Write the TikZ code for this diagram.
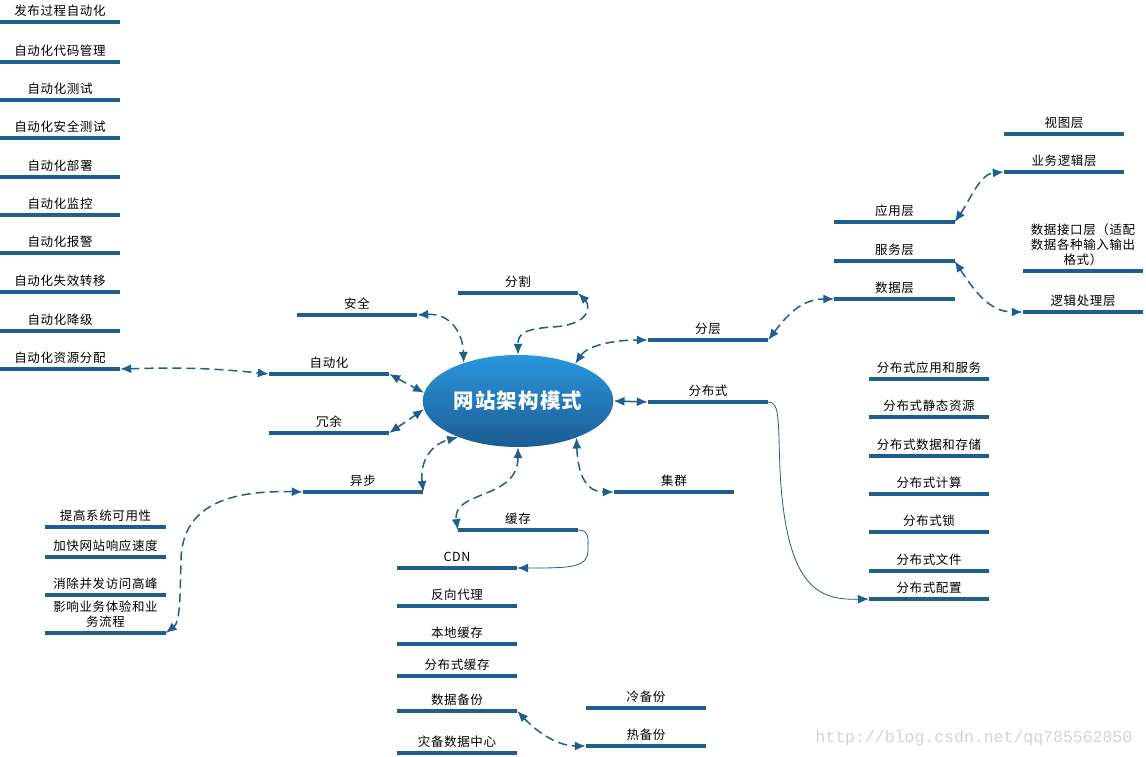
\documentclass[tikz,border=0pt]{standalone}
\usepackage{fontspec}
\newfontfamily\cjk[LetterSpace=5]{Noto Sans CJK SC}
\newfontfamily\wmfont{Liberation Mono}
\usetikzlibrary{shapes.geometric,arrows.meta}
\definecolor{barblue}{HTML}{1F5F8B}
\definecolor{corehi}{HTML}{2A96DD}
\definecolor{corelo}{HTML}{1C5C93}
\definecolor{wmgray}{HTML}{D4D4D4}
\tikzset{
  bar/.style={draw=barblue,line width=4pt},
  topic/.style={font=\cjk\fontsize{12.5}{15}\selectfont,minimum width=120pt,
    inner xsep=0pt,inner ysep=2.5pt,text height=10pt,text depth=4pt,anchor=south,
    append after command={(\tikzlastnode.south west) edge[bar] (\tikzlastnode.south east)}},
  core/.style={ellipse,minimum width=190pt,minimum height=92pt,top color=corehi,
    bottom color=corelo,text=white,font=\cjk\bfseries\fontsize{20.5}{24}\selectfont},
  link/.style={draw=barblue,line width=1.5pt,dash pattern=on 9pt off 5pt,
    {Latex[length=11pt,width=9pt]}-{Latex[length=11pt,width=9pt]}},
  flow/.style={draw=barblue,line width=0.8pt,-{Latex[length=11pt,width=9pt]}}
}
\begin{document}
\begin{tikzpicture}[x=1pt,y=-1pt]
  \useasboundingbox[fill=white] (0,0) rectangle (1146,757);
  % centre
  \node[core] (core) at (518,401) {网站架构模式};
  % automation column
  \foreach \yy/\lab [count=\i] in {22/发布过程自动化, 62/自动化代码管理, 100/自动化测试,
      138/自动化安全测试, 177/自动化部署, 215/自动化监控, 253/自动化报警,
      292/自动化失效转移, 331/自动化降级, 369/自动化资源分配}
    \node[topic] (zd\i) at (60,\yy) {\lab};
  % left branches
  \node[topic] (anquan) at (357,315) {安全};
  \node[topic] (zidonghua) at (329,374) {自动化};
  \node[topic] (rongyu) at (329,433) {冗余};
  \node[topic] (yibu) at (363,492) {异步};
  \node[topic] (gaoyong) at (105.5,527) {提高系统可用性};
  \node[topic] (kuaisu) at (105.5,557) {加快网站响应速度};
  \node[topic] (xiaofeng) at (105.5,595) {消除并发访问高峰};
  \node[topic] (yingxiang) at (105.5,633)
    {\begin{tabular}[b]{@{}c@{}}影响业务体验和业\\务流程\end{tabular}};
  % top / bottom branches
  \node[topic] (fenge) at (518,293) {分割};
  \node[topic] (huancun) at (518,530) {缓存};
  \foreach \nm/\yy/\lab in {cdn/568/CDN, fanxiang/606/反向代理, bendi/644/本地缓存,
      fbhc/676/分布式缓存, sjbf/711/数据备份, zaibei/753/灾备数据中心}
    \node[topic] (\nm) at (457,\yy) {\lab};
  \node[topic] (lengbf) at (646,708) {冷备份};
  \node[topic] (rebf) at (646,746) {热备份};
  % right branches
  \node[topic] (jiqun) at (674,492) {集群};
  \node[topic] (fenceng) at (708,340) {分层};
  \node[topic] (fenbu) at (708,402) {分布式};
  \foreach \nm/\yy/\lab in {yingyong/222/应用层, fuwu/261/服务层, shujuceng/299/数据层}
    \node[topic] (\nm) at (894.5,\yy) {\lab};
  \node[topic] (shitu) at (1064,134) {视图层};
  \node[topic] (yewu) at (1064,172) {业务逻辑层};
  \node[topic] (jiekou) at (1083,271)
    {\begin{tabular}[b]{@{}c@{}}数据接口层（适配\\数据各种输入输出\\格式）\end{tabular}};
  \node[topic] (luoji) at (1083,312) {逻辑处理层};
  \foreach \yy/\lab [count=\i] in {379/分布式应用和服务, 417/分布式静态资源,
      456/分布式数据和存储, 494/分布式计算, 532/分布式锁, 571/分布式文件, 599/分布式配置}
    \node[topic] (fb\i) at (929,\yy) {\lab};
  % dashed links
  \draw[link] (anquan.south east) .. controls (452,313) and (463,335) .. (core.145);
  \draw[link] (fenge.south east) .. controls (590,305) and (592,325) .. (552,327)
    .. controls (522,329) and (518,335) .. (core.north);
  \draw[link] (zidonghua.south east) -- (core.175);
  \draw[link] (rongyu.south east) -- (core.185);
  \draw[link] (zd10.south east) .. controls (190,367) and (220,369) .. (zidonghua.south west);
  \draw[link] (yibu.south east) .. controls (420,462) and (430,445) .. (core.211);
  \draw[link] (yibu.south west) .. controls (230,490) and (182,505) .. (181,560)
    .. controls (180,600) and (180,622) .. (yingxiang.south east);
  \draw[link] (core.south) .. controls (518,500) and (452,490) .. (huancun.south west);
  \draw[link] (sjbf.south east) .. controls (540,735) and (560,746) .. (rebf.south west);
  \draw[link] (core.-32) .. controls (578,478) and (588,492) .. (jiqun.south west);
  \draw[link] (core.33) .. controls (588,345) and (615,340) .. (fenceng.south west);
  \draw[draw=barblue,line width=1.5pt,{Latex[length=11pt,width=9pt]}-{Latex[length=11pt,width=9pt]}]
    (core.east) -- (fenbu.south west);
  \draw[link] (fenceng.south east) .. controls (785,318) and (800,299) .. (shujuceng.south west);
  \draw[link] (yingyong.south east) .. controls (970,200) and (980,174) .. (yewu.south west);
  \draw[link] (fuwu.south east) .. controls (975,292) and (990,312) .. (luoji.south west);
  % solid links
  \draw[flow] (huancun.south east) .. controls (590,530) and (588,540) .. (588,550)
    .. controls (588,568) and (570,568) .. (cdn.south east);
  \draw[flow] (fenbu.south east) .. controls (780,402) and (778,420) .. (780,470)
    .. controls (786,590) and (820,600) .. (fb7.south west);
  \node[font=\wmfont\fontsize{16.5}{18}\selectfont,text=wmgray,anchor=west] (wm)
    at (812,738) {http://blog.csdn.net/qq785562850};
\end{tikzpicture}
\end{document}
